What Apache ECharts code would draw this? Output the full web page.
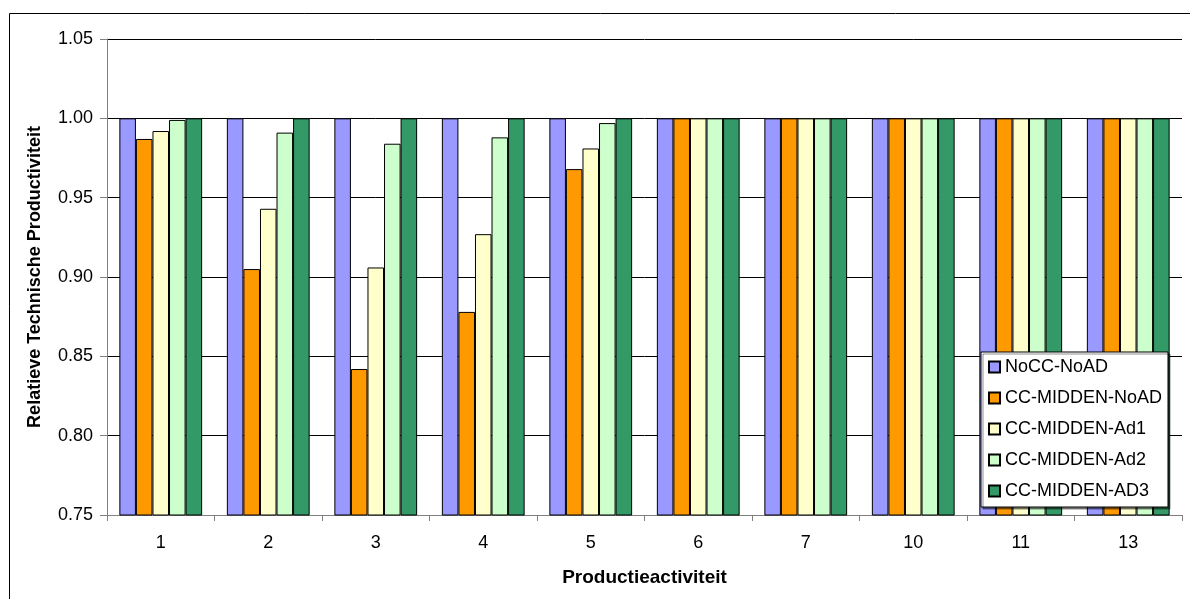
<!DOCTYPE html>
<html>
<head>
    <meta charset="utf-8">
    <title>Relatieve Technische Productiviteit</title>
    <script src="https://cdn.jsdelivr.net/npm/echarts@6/dist/echarts.min.js"></script>
    <style>
        html, body { margin: 0; padding: 0; background: #fff; }
        #chart { width: 1190px; height: 599px; }
    </style>
</head>
<body>
    <div id="chart"></div>
    <script>
        // data
        var categories = ['1', '2', '3', '4', '5', '6', '7', '10', '11', '13'];
        var seriesNames = ['NoCC-NoAD', 'CC-MIDDEN-NoAD', 'CC-MIDDEN-Ad1', 'CC-MIDDEN-Ad2', 'CC-MIDDEN-AD3'];
        var noccNoad = [1, 1, 1, 1, 1, 1, 1, 1, 1, 1];
        var ccNoad = [0.987, 0.905, 0.842, 0.878, 0.968, 1, 1, 1, 1, 1];
        var ccAd1 = [0.992, 0.943, 0.906, 0.927, 0.981, 1, 1, 1, 1, 1];
        var ccAd2 = [0.999, 0.991, 0.984, 0.988, 0.997, 1, 1, 1, 1, 1];
        var ccAd3 = [1, 1, 1, 1, 1, 1, 1, 1, 1, 1];
        var colors = ['#9999ff', '#ff9900', '#ffffcc', '#ccffcc', '#339966'];

        var allValues = [noccNoad, ccNoad, ccAd1, ccAd2, ccAd3];
        var font = 'Arial, "Liberation Sans", sans-serif';

        var series = allValues.map(function (vals, i) {
            return {
                name: seriesNames[i],
                type: 'bar',
                data: vals,
                barGap: '0%',
                barCategoryGap: '23%',
                itemStyle: { color: colors[i], borderColor: '#000', borderWidth: 1 }
            };
        });

        var chart = echarts.init(document.getElementById('chart'));
        chart.setOption({
            animation: false,
            textStyle: { fontFamily: font },
            graphic: [{
                type: 'rect',
                shape: { x: 9.5, y: 13.5, width: 1200, height: 700 },
                style: { fill: 'none', stroke: '#000', lineWidth: 1 },
                silent: true
            }],
            grid: { left: 107, right: 8, top: 39, bottom: 84 },
            legend: {
                orient: 'vertical',
                left: 981, top: 352,
                backgroundColor: '#fff',
                borderColor: '#000',
                borderWidth: 1,
                shadowColor: 'rgba(0,0,0,0.45)',
                shadowOffsetX: 2,
                shadowOffsetY: 2,
                padding: [6, 6, 7, 7],
                itemGap: 13,
                itemWidth: 11,
                itemHeight: 11,
                icon: 'rect',
                textStyle: { fontSize: 18, lineHeight: 18, color: '#000', fontFamily: font },
                data: seriesNames
            },
            xAxis: {
                type: 'category',
                data: categories,
                name: 'Productieactiviteit',
                nameLocation: 'middle',
                nameGap: 53,
                nameTextStyle: { fontSize: 19, fontWeight: 'bold', color: '#000', fontFamily: font },
                axisLine: { lineStyle: { color: '#808080' } },
                axisTick: { show: true, alignWithLabel: false, length: 6, lineStyle: { color: '#808080' } },
                axisLabel: { fontSize: 18, color: '#000', margin: 19, fontFamily: font }
            },
            yAxis: {
                type: 'value',
                min: 0.75,
                max: 1.05,
                interval: 0.05,
                name: 'Relatieve Technische Productiviteit',
                nameLocation: 'middle',
                nameGap: 63,
                nameTextStyle: { fontSize: 18, fontWeight: 'bold', color: '#000', fontFamily: font },
                axisLine: { show: true, lineStyle: { color: '#808080' } },
                axisTick: { show: true, inside: false, length: 7, lineStyle: { color: '#808080' } },
                axisLabel: {
                    fontSize: 18, color: '#000', margin: 14, fontFamily: font,
                    formatter: function (v) { return v.toFixed(2); }
                },
                splitLine: { show: true, lineStyle: { color: '#000', width: 1 } }
            },
            series: series
        });
    </script>
</body>
</html>
